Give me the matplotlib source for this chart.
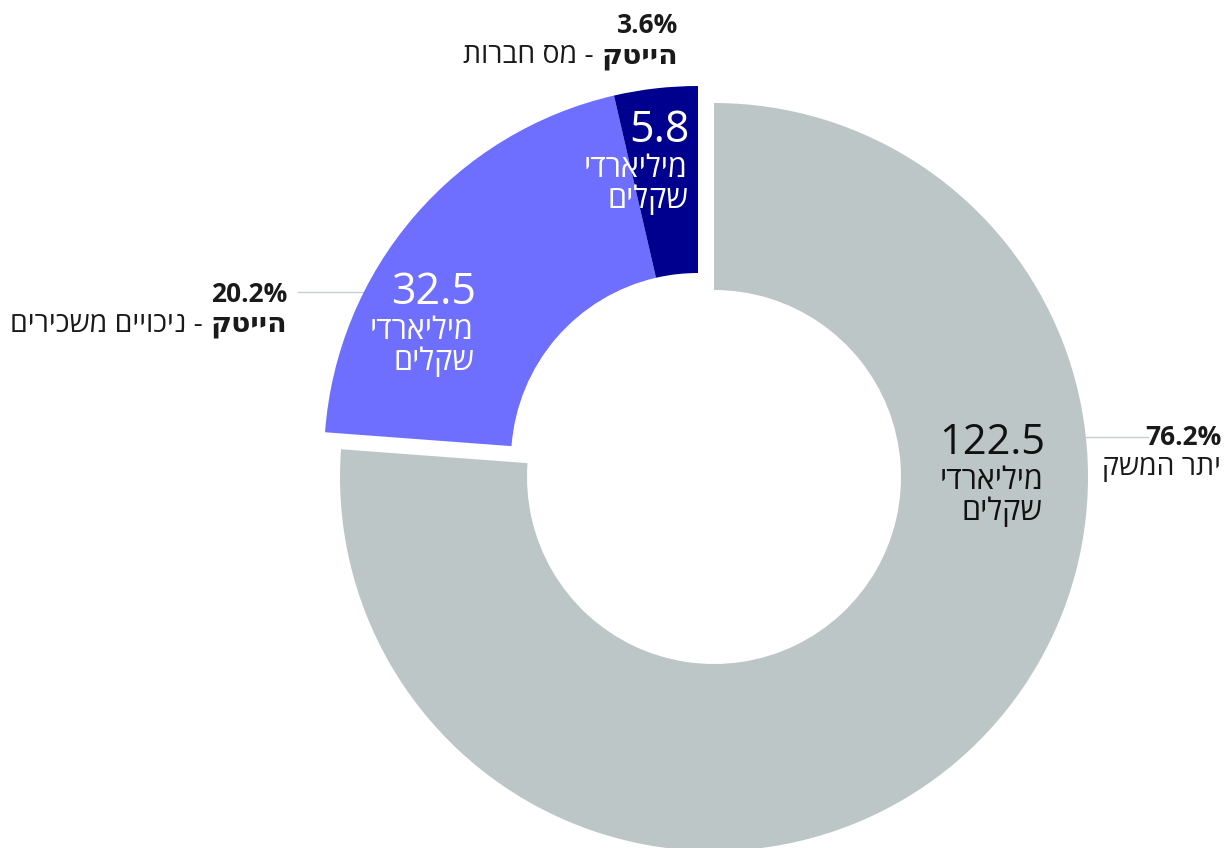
import matplotlib.pyplot as plt

# Data
values = [122.5, 32.5, 5.8]
amounts = ['122.5', '32.5', '5.8']
bold_names = ['', 'הייטק', 'הייטק']
plain_names = ['יתר המשק', 'ניכויים משכירים', 'מס חברות']
unit_lines = ['מיליארדי', 'שקלים']
colors = ['#bdc6c6', '#6e6fff', '#00008e']
amount_colors = ['#111111', 'white', 'white']

W, H = 1226, 848
FONT = ['Open Sans', 'DejaVu Sans']
TEXT_COLOR = '#1a1a1a'
LINE_COLOR = '#c8cccc'

# Geometry (pixel units, y measured from the top of the image)
CENTER = (714, 477)
RADIUS = 374
RING = 187
SHIFT = (-16, -17)   # the two hi-tech slices are pulled out together


def rtl(s):
    # matplotlib has no bidi support, so Hebrew is written in visual order
    return s[::-1]


def Y(y):
    return H - y


plt.rcParams['font.family'] = FONT

fig = plt.figure(figsize=(W / 100, H / 100), dpi=100)
ax = fig.add_axes([0, 0, 1, 1])

# Grey slice at the original centre, hi-tech slices shifted as a group
base_colors = [colors[0], 'none', 'none']
shift_colors = ['none', colors[1], colors[2]]
for cols, (dx, dy) in [(base_colors, (0, 0)), (shift_colors, SHIFT)]:
    ax.pie(
        values,
        colors=cols,
        startangle=90,
        counterclock=False,
        radius=RADIUS,
        center=(CENTER[0] + dx, Y(CENTER[1] + dy)),
        wedgeprops=dict(width=RING, linewidth=0),
        frame=True,
    )
ax.set_xlim(0, W)
ax.set_ylim(0, H)
ax.set_aspect('equal')
ax.axis('off')

# Amount labels inside the slices: (right x, number baseline)
inner_pos = [(1045, 454), (476, 304), (690, 142)]
number_sizes = [30, 31, 31]
for i, (x, y) in enumerate(inner_pos):
    ax.text(x, Y(y), amounts[i], ha='right', va='baseline',
            fontsize=number_sizes[i], fontweight='medium', color=amount_colors[i])
    for k, line in enumerate(unit_lines):
        ax.text(x - 2, Y(y + 35 + k * 31), rtl(line), ha='right', va='baseline',
                fontsize=22, color=amount_colors[i])

# Outer labels: percentage on top, name below
total = sum(values)
outer_pos = [(1221, 445), (287, 302), (678, 33)]
for i, (x, y) in enumerate(outer_pos):
    pct = f'{values[i] / total * 100:.1f}%'
    ax.text(x, Y(y), pct, ha='right', va='baseline', fontsize=19,
            fontweight='bold', color=TEXT_COLOR)
    if bold_names[i]:
        bold = ax.text(x, Y(y + 30), rtl(bold_names[i]), ha='right', va='baseline',
                       fontsize=20.5, fontweight='bold', color=TEXT_COLOR)
        ax.annotate(rtl(' - ' + plain_names[i]), xy=(0, 0), xycoords=bold,
                    ha='right', va='bottom', fontsize=20.5, color=TEXT_COLOR)
    else:
        ax.text(x, Y(y + 30), rtl(plain_names[i]), ha='right', va='baseline',
                fontsize=20.5, color=TEXT_COLOR)

# Leader lines
ax.plot([1084, 1148], [Y(437), Y(437)], color=LINE_COLOR, linewidth=1, zorder=0)
ax.plot([298, 364], [Y(292), Y(292)], color=LINE_COLOR, linewidth=1, zorder=0)

fig.savefig('out.png', dpi=100, facecolor='white')
